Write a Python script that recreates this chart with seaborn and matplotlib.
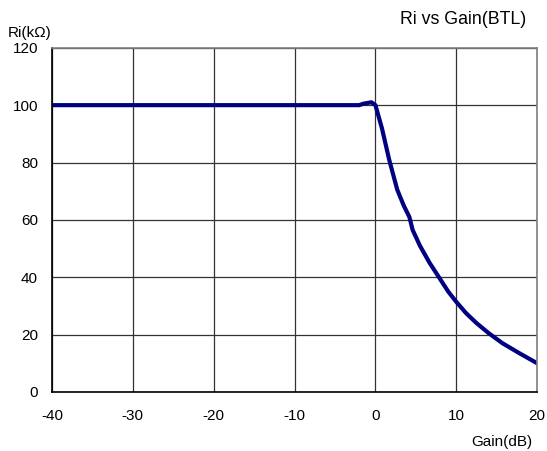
import numpy as np
import pandas as pd
import matplotlib
matplotlib.use("Agg")
import matplotlib.pyplot as plt
import seaborn as sns

# values
gain_db = [-40, -30, -20, -10, -2, -1.5, -0.5, 0, 0.8, 1.7, 2.7, 3.5, 4.2, 4.6, 5.5,
           6.7, 7.9, 9.0, 10, 11.2, 12.5, 14.0, 15.7, 17.8, 20]
ri_kohm = [100, 100, 100, 100, 100, 100.5, 101, 100, 92, 81, 70.5, 65, 61, 56.5, 51,
           45, 39.8, 35, 31.4, 27.5, 24, 20.5, 17, 13.5, 10]

x_ticks = [-40, -30, -20, -10, 0, 10, 20]
y_ticks = [0, 20, 40, 60, 80, 100, 120]

df = pd.DataFrame({"gain": gain_db, "ri": ri_kohm})

sns.set_style("white")
plt.rcParams["font.family"] = ["Liberation Sans", "DejaVu Sans"]
plt.rcParams["axes.unicode_minus"] = False
plt.rcParams["text.color"] = "black"

fig = plt.figure(figsize=(5.47, 4.51), dpi=100)
ax = fig.add_axes([0.095, 0.131, 0.887, 0.763])

sns.lineplot(x="gain", y="ri", data=df, color="#000080", linewidth=3, ax=ax)

ax.set_xlim(-40, 20)
ax.set_ylim(0, 120)
ax.set_xticks(x_ticks)
ax.set_yticks(y_ticks)
ax.grid(True, color="#333333", linewidth=0.9)
ax.set_axisbelow(True)
ax.tick_params(axis="both", length=0, labelsize=11, colors="black")
ax.tick_params(axis="x", pad=12)
ax.tick_params(axis="y", pad=10)
ax.set_xlabel("")
ax.set_ylabel("")

for side in ["left", "bottom"]:
    ax.spines[side].set_color("black")
    ax.spines[side].set_linewidth(1.2)
for side in ["right", "top"]:
    ax.spines[side].set_color("#808080")
    ax.spines[side].set_linewidth(1.2)

fig.text(0.846, 0.956, "Ri vs Gain(BTL)", ha="center", va="center", fontsize=12.8)
fig.text(0.055, 0.927, "Ri(kΩ)", ha="center", va="center", fontsize=11)
fig.text(0.918, 0.02, "Gain(dB)", ha="center", va="center", fontsize=11)

plt.savefig("out.png", dpi=100)
plt.close()
